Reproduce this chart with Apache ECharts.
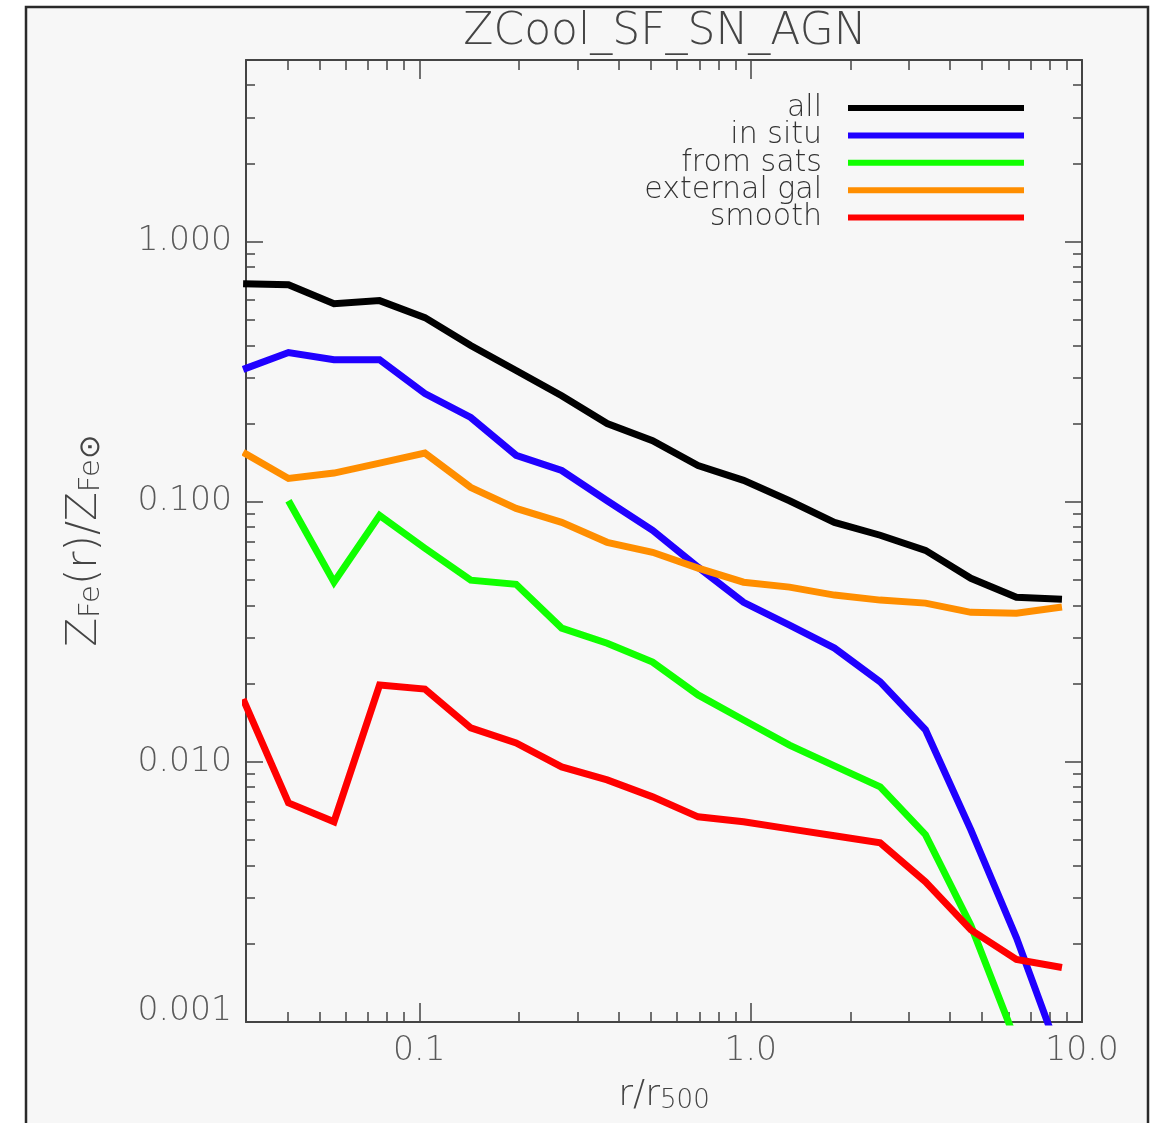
<!DOCTYPE html>
<html>
<head>
<meta charset="utf-8">
<title>ZCool_SF_SN_AGN</title>
<script src="https://cdn.jsdelivr.net/npm/echarts@6/dist/echarts.min.js"></script>
<style>
  html, body { margin: 0; padding: 0; background: #ffffff; }
  #chart { width: 1154px; height: 1123px; }
</style>
</head>
<body>
<div id="chart"></div>
<script>
// Radial bins (r / r500)
const radius = [0.0294, 0.0403, 0.0553, 0.0759, 0.104, 0.143, 0.196, 0.269, 0.369, 0.506,
                0.694, 0.952, 1.31, 1.79, 2.46, 3.37, 4.62, 6.34, 8.70];

// Iron abundance profiles Z_Fe(r)/Z_Fe,sun
const zAll      = [0.690, 0.684, 0.578, 0.594, 0.511, 0.399, 0.320, 0.256, 0.200, 0.172,
                   0.138, 0.121, 0.101, 0.0834, 0.0744, 0.0651, 0.0508, 0.0430, 0.0422];
const zInSitu   = [0.323, 0.375, 0.352, 0.352, 0.261, 0.211, 0.151, 0.132, 0.101, 0.0777,
                   0.0561, 0.0411, 0.0336, 0.0274, 0.0203, 0.0133, 0.00548, 0.00211, 0.000705];
const zFromSats = [null, 0.101, 0.0491, 0.0887, 0.0663, 0.0500, 0.0482, 0.0327, 0.0286, 0.0242,
                   0.0181, 0.0145, 0.0116, 0.00966, 0.00802, 0.00525, 0.00235, 0.000834, null];
const zExternal = [0.155, 0.123, 0.129, 0.141, 0.154, 0.1137, 0.0944, 0.0834, 0.0699, 0.0640,
                   0.0556, 0.0491, 0.0470, 0.0438, 0.0419, 0.0408, 0.0376, 0.0373, 0.0394];
const zSmooth   = [0.01745, 0.00696, 0.00589, 0.01975, 0.01906, 0.01351, 0.01183, 0.00957, 0.00853, 0.00734,
                   0.00615, 0.00589, 0.00553, 0.00520, 0.00489, 0.00346, 0.00226, 0.00174, 0.00162];

const seriesNames = ['all', 'in situ', 'from sats', 'external gal', 'smooth'];
const seriesColors = ['#000000', '#2000ff', '#10ff00', '#ff8e00', '#ff0000'];
const seriesValues = [zAll, zInSitu, zFromSats, zExternal, zSmooth];

// Axis ticks and labels
const xMajor = [0.1, 1, 10];
const xLabels = ['0.1', '1.0', '10.0'];
const xMinor = [0.04, 0.05, 0.06, 0.07, 0.08, 0.09, 0.2, 0.3, 0.4, 0.5, 0.6, 0.7, 0.8, 0.9,
                2, 3, 4, 5, 6, 7, 8, 9];
const yMajor = [0.001, 0.01, 0.1, 1];
const yLabels = ['0.001', '0.010', '0.100', '1.000'];
const yMinor = [0.002, 0.003, 0.004, 0.005, 0.006, 0.007, 0.008, 0.009,
                0.02, 0.03, 0.04, 0.05, 0.06, 0.07, 0.08, 0.09,
                0.2, 0.3, 0.4, 0.5, 0.6, 0.7, 0.8, 0.9, 2, 3, 4];

const FONT = '"DejaVu Sans", sans-serif';
const INK = '#444444';
const LABEL = '#5a5a5a';

function labelFor(v, ticks, labels) {
  let best = 0, bestD = Infinity;
  ticks.forEach((t, i) => {
    const d = Math.abs(Math.log10(t) - Math.log10(v));
    if (d < bestD) { bestD = d; best = i; }
  });
  return labels[best];
}

function logAxis(kind, position, ticks, len, showLine, labels) {
  const ax = {
    type: 'log', logBase: 10, position: position,
    min: kind === 'x' ? 0.03 : 0.001,
    max: kind === 'x' ? 10 : 5,
    splitLine: { show: false },
    axisLine: { show: showLine, onZero: false, lineStyle: { color: INK, width: 2 } },
    axisTick: { show: true, inside: true, length: len, customValues: ticks,
                lineStyle: { color: INK, width: 1.5 } },
    axisLabel: { show: false },
    minorTick: { show: false }
  };
  if (labels) {
    ax.axisLabel = {
      show: true, customValues: ticks,
      margin: kind === 'x' ? 13 : 14,
      fontFamily: FONT, fontSize: 33, fontWeight: 200, color: LABEL,
      formatter: v => {
        const s = labelFor(v, ticks, labels);
        return s === '0.001' ? '{low|' + s + '}' : s;
      },
      rich: { low: { fontFamily: FONT, fontSize: 33, fontWeight: 200, color: LABEL,
                     padding: [0, 0, 22, 0] } }
    };
  }
  return ax;
}

const xAxes = [
  logAxis('x', 'bottom', xMajor, 19, true, xLabels),
  logAxis('x', 'bottom', xMinor, 10, false),
  logAxis('x', 'top', xMajor, 19, true),
  logAxis('x', 'top', xMinor, 10, false)
];
xAxes[0].name = '{r|r/r}{s|500}';
xAxes[0].nameLocation = 'middle';
xAxes[0].nameGap = 50;
xAxes[0].nameTextStyle = {
  rich: {
    r: { fontFamily: FONT, fontSize: 36, fontWeight: 200, color: INK, lineHeight: 42, verticalAlign: 'bottom' },
    s: { fontFamily: FONT, fontSize: 26, fontWeight: 200, color: INK, lineHeight: 26, verticalAlign: 'bottom' }
  }
};

const yAxes = [
  logAxis('y', 'left', yMajor, 17, true, yLabels),
  logAxis('y', 'left', yMinor, 9, false),
  logAxis('y', 'right', yMajor, 17, true),
  logAxis('y', 'right', yMinor, 9, false)
];
yAxes[0].name = '{z|Z}{s|Fe}{z|(r)/Z}{s|Fe⊙}';
yAxes[0].nameLocation = 'middle';
yAxes[0].nameRotate = 90;
yAxes[0].nameGap = 140;
yAxes[0].nameTextStyle = {
  rich: {
    z: { fontFamily: FONT, fontSize: 42, fontWeight: 200, color: INK, lineHeight: 46, verticalAlign: 'bottom' },
    s: { fontFamily: FONT, fontSize: 29, fontWeight: 200, color: INK, lineHeight: 29, verticalAlign: 'bottom' }
  }
};

const series = seriesNames.map((name, k) => ({
  name: name,
  type: 'line',
  xAxisIndex: 0,
  yAxisIndex: 0,
  clip: true,
  showSymbol: false,
  symbol: 'none',
  animation: false,
  lineStyle: { color: seriesColors[k], width: 7, join: 'miter' },
  itemStyle: { color: seriesColors[k] },
  data: radius.map((r, i) => [r, seriesValues[k][i]]).filter(p => p[1] !== null)
}));

const chart = echarts.init(document.getElementById('chart'), null, { renderer: 'canvas' });
chart.setOption({
  backgroundColor: '#ffffff',
  animation: false,
  graphic: {
    z: -100,
    elements: [{
      type: 'rect', z: -100, silent: true,
      shape: { x: 26, y: 7, width: 1122, height: 1140 },
      style: { fill: '#f7f7f7', stroke: '#2a2a2a', lineWidth: 2.5 }
    }]
  },
  title: {
    text: 'ZCool_SF_SN_AGN',
    left: 660, textAlign: 'center', top: 6,
    textStyle: { fontFamily: FONT, fontSize: 44, fontWeight: 200, color: INK }
  },
  legend: {
    orient: 'vertical', right: 130, top: 93, padding: 0,
    align: 'right', icon: 'rect', itemWidth: 176, itemHeight: 6, itemGap: -2.6,
    selectedMode: false,
    data: seriesNames,
    formatter: name => '{t|' + name + '}',
    textStyle: {
      fontFamily: FONT, fontSize: 30, lineHeight: 22,
      rich: { t: { fontFamily: FONT, fontSize: 30, fontWeight: 200, color: '#333333',
                   lineHeight: 22, padding: [0, 21, 0, 0] } }
    }
  },
  grid: { left: 246, right: 72, top: 60, bottom: 101, containLabel: false },
  xAxis: xAxes,
  yAxis: yAxes,
  series: series
});
</script>
</body>
</html>
